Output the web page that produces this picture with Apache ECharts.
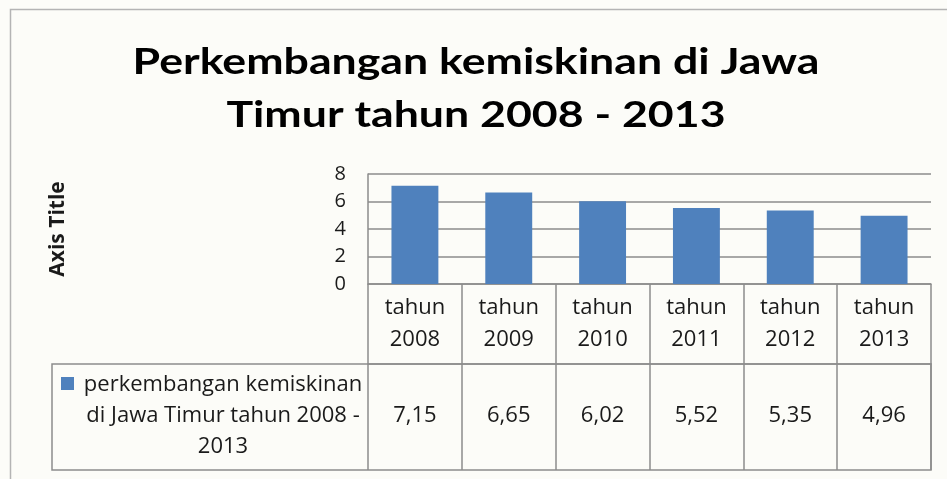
<!DOCTYPE html>
<html>
<head>
<meta charset="utf-8">
<script src="https://cdn.jsdelivr.net/npm/echarts@6/dist/echarts.min.js"></script>
<style>
html,body{margin:0;padding:0;background:#fcfcf8;}
#c{width:947px;height:479px;}
</style>
</head>
<body>
<div id="c"></div>
<script>
var titleLines = ['Perkembangan kemiskinan di Jawa', 'Timur tahun 2008 - 2013'];
var categories = ['tahun\n2008', 'tahun\n2009', 'tahun\n2010', 'tahun\n2011', 'tahun\n2012', 'tahun\n2013'];
var seriesName = 'perkembangan kemiskinan di Jawa Timur tahun 2008 - 2013';
var legendLines = 'perkembangan kemiskinan\ndi Jawa Timur tahun 2008 -\n2013';
var values = [7.15, 6.65, 6.02, 5.52, 5.35, 4.96];
var yTicks = [0, 2, 4, 6, 8];

var fmt = function (v) { return v.toFixed(2).replace('.', ','); };
var grey = '#8c8c8c';
var txt = '#1a1a1a';
var font = '"Open Sans", sans-serif';

var chart = echarts.init(document.getElementById('c'));
chart.setOption({
  backgroundColor: '#fcfcf8',
  animation: false,
  grid: { left: 368, right: 16, top: 174, bottom: 195 },
  xAxis: [{
    type: 'category',
    data: categories,
    axisLine: { show: true, lineStyle: { color: grey, width: 1.5 } },
    axisTick: { show: true, length: 80, lineStyle: { color: grey, width: 1.5 } },
    axisLabel: { margin: 8, fontFamily: font, fontSize: 22, lineHeight: 32, color: txt }
  }, {
    type: 'category',
    position: 'bottom',
    offset: 80,
    data: values.map(fmt),
    axisLine: { show: true, lineStyle: { color: grey, width: 1.5 } },
    axisTick: { show: true, length: 106, lineStyle: { color: grey, width: 1.5 } },
    axisLabel: { margin: 41, fontFamily: font, fontSize: 22, color: txt }
  }],
  yAxis: {
    type: 'value',
    min: yTicks[0], max: yTicks[yTicks.length - 1], interval: 2,
    name: 'Axis Title',
    nameLocation: 'middle',
    nameRotate: 90,
    nameGap: 299,
    nameTextStyle: { fontFamily: font, fontWeight: 'bold', fontSize: 21, color: txt },
    axisLine: { show: true, lineStyle: { color: grey, width: 1.5 } },
    axisTick: { show: false },
    axisLabel: { margin: 22, fontFamily: font, fontSize: 20, color: txt },
    splitLine: { show: true, lineStyle: { color: grey, width: 1.5 } }
  },
  series: [{
    name: seriesName,
    type: 'bar',
    data: values,
    barWidth: '50%',
    itemStyle: { color: '#4f81bd' }
  }],
  graphic: [
    { type: 'rect', shape: { x: 10.5, y: 9.5, width: 1000, height: 1000 }, style: { fill: 'none', stroke: '#b4b4b4', lineWidth: 1.5 }, silent: true },
    { type: 'text', x: 476, y: 62, scaleX: 1.24, style: { x: 0, y: 0, text: titleLines[0], font: 'bold 36px Lato, sans-serif', fill: '#000', align: 'center', verticalAlign: 'middle' }, silent: true },
    { type: 'text', x: 476, y: 115, scaleX: 1.24, style: { x: 0, y: 0, text: titleLines[1], font: 'bold 36px Lato, sans-serif', fill: '#000', align: 'center', verticalAlign: 'middle' }, silent: true },
    { type: 'rect', shape: { x: 52, y: 364, width: 879, height: 106 }, style: { fill: 'none', stroke: grey, lineWidth: 1.5 }, silent: true },
    { type: 'rect', shape: { x: 61, y: 377, width: 13, height: 13 }, style: { fill: '#4f81bd' }, silent: true },
    { type: 'text', x: 223, y: 369, style: { x: 0, y: 0, text: legendLines, font: '22px "Open Sans", sans-serif', fill: txt, align: 'center', verticalAlign: 'top', lineHeight: 31 }, silent: true }
  ]
});
</script>
</body>
</html>
